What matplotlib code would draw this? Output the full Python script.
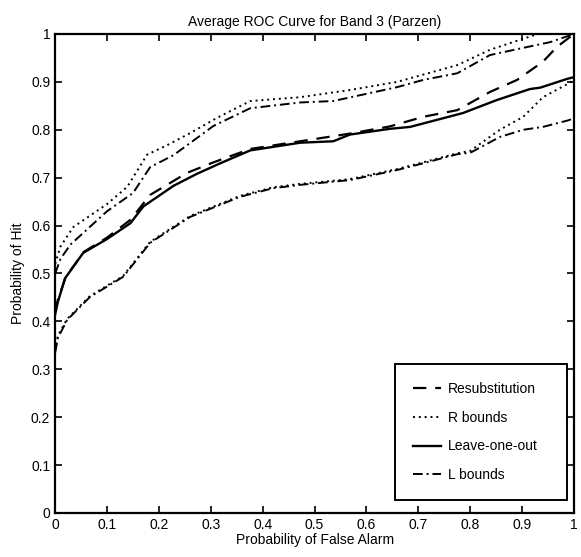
import matplotlib.pyplot as plt

plt.rcParams['font.family'] = ['Liberation Sans', 'DejaVu Sans']

# Resubstitution (dashed)
resub_x = [0, 0.005, 0.02, 0.055, 0.1, 0.145, 0.183, 0.254, 0.305, 0.376, 0.472,
           0.568, 0.645, 0.709, 0.775, 0.838, 0.89, 0.94, 0.967, 1.0]
resub_y = [0.42, 0.445, 0.492, 0.545, 0.575, 0.612, 0.664, 0.71, 0.732, 0.76, 0.776,
           0.792, 0.807, 0.827, 0.841, 0.879, 0.904, 0.942, 0.973, 1.0]

# Leave-one-out (solid)
loo_x = [0, 0.005, 0.019, 0.054, 0.1, 0.145, 0.17, 0.228, 0.273, 0.318, 0.376, 0.472,
         0.536, 0.568, 0.645, 0.684, 0.786, 0.851, 0.915, 0.935, 0.986, 1.0]
loo_y = [0.415, 0.44, 0.49, 0.543, 0.572, 0.605, 0.64, 0.683, 0.708, 0.73, 0.757, 0.773,
         0.776, 0.79, 0.802, 0.806, 0.835, 0.862, 0.885, 0.888, 0.906, 0.91]

# R bounds (dotted), upper and lower
r_up_x = [0, 0.01, 0.035, 0.1, 0.139, 0.177, 0.216, 0.26, 0.312, 0.376, 0.472, 0.568,
          0.659, 0.775, 0.838, 0.902, 0.93, 1.0]
r_up_y = [0.52, 0.556, 0.597, 0.645, 0.681, 0.748, 0.768, 0.793, 0.825, 0.86, 0.868, 0.883,
          0.9, 0.935, 0.967, 0.99, 1.0, 1.0]
r_lo_x = [0, 0.005, 0.023, 0.067, 0.131, 0.183, 0.26, 0.356, 0.42, 0.472, 0.568, 0.659,
          0.709, 0.775, 0.8, 0.857, 0.902, 0.94, 0.99, 1.0]
r_lo_y = [0.34, 0.37, 0.405, 0.453, 0.495, 0.566, 0.62, 0.662, 0.68, 0.687, 0.697, 0.718,
          0.732, 0.751, 0.756, 0.8, 0.827, 0.868, 0.897, 0.905]

# L bounds (dash-dot), upper and lower
l_up_x = [0, 0.01, 0.029, 0.1, 0.15, 0.183, 0.228, 0.305, 0.376, 0.472, 0.536, 0.659,
          0.709, 0.775, 0.838, 0.902, 0.954, 1.0]
l_up_y = [0.50, 0.53, 0.56, 0.63, 0.668, 0.722, 0.747, 0.808, 0.845, 0.857, 0.86, 0.889,
          0.904, 0.918, 0.956, 0.971, 0.983, 1.0]
l_lo_x = [0, 0.005, 0.023, 0.067, 0.131, 0.183, 0.26, 0.356, 0.42, 0.472, 0.568, 0.659,
          0.709, 0.775, 0.8, 0.857, 0.902, 0.94, 0.99, 1.0]
l_lo_y = [0.335, 0.365, 0.403, 0.451, 0.493, 0.564, 0.618, 0.66, 0.678, 0.685, 0.695, 0.716,
          0.73, 0.749, 0.752, 0.785, 0.8, 0.806, 0.82, 0.825]

ticks = [0, 0.1, 0.2, 0.3, 0.4, 0.5, 0.6, 0.7, 0.8, 0.9, 1]
tick_labels = ['0', '0.1', '0.2', '0.3', '0.4', '0.5', '0.6', '0.7', '0.8', '0.9', '1']

fig = plt.figure(figsize=(5.81, 5.57), dpi=100)
ax = fig.add_axes([0.095, 0.079, 0.893, 0.860])

ax.plot(resub_x, resub_y, color='black', lw=1.6, linestyle=(0, (6, 4)), label='Resubstitution')
ax.plot(r_up_x, r_up_y, color='black', lw=1.4, linestyle=(0, (1, 2)), label='R bounds')
ax.plot(r_lo_x, r_lo_y, color='black', lw=1.4, linestyle=(0, (1, 2)))
ax.plot(loo_x, loo_y, color='black', lw=1.7, linestyle='-', label='Leave-one-out')
ax.plot(l_up_x, l_up_y, color='black', lw=1.4, linestyle=(0, (5, 2, 1, 2)), label='L bounds')
ax.plot(l_lo_x, l_lo_y, color='black', lw=1.4, linestyle=(0, (5, 2, 1, 2)))

ax.set_xlim(0, 1)
ax.set_ylim(0, 1)
ax.set_xticks(ticks)
ax.set_xticklabels(tick_labels)
ax.set_yticks(ticks)
ax.set_yticklabels(tick_labels)
ax.tick_params(direction='in', top=True, right=True, length=5, width=1.2, labelsize=10)
for s in ax.spines.values():
    s.set_linewidth(1.6)

ax.set_title('Average ROC Curve for Band 3 (Parzen)', fontsize=10, pad=6)
ax.set_xlabel('Probability of False Alarm', fontsize=10, labelpad=1)
ax.set_ylabel('Probability of Hit', fontsize=10, labelpad=4)

leg = ax.legend(loc='lower left', bbox_to_anchor=(0.655, 0.027, 0.331, 0.2), mode='expand',
                fancybox=False, edgecolor='black', framealpha=1, fontsize=10,
                handlelength=2.0, labelspacing=1.05, borderpad=1.3, handletextpad=0.5,
                borderaxespad=0)
leg.get_frame().set_linewidth(1.4)

plt.savefig('out.png', dpi=100)
